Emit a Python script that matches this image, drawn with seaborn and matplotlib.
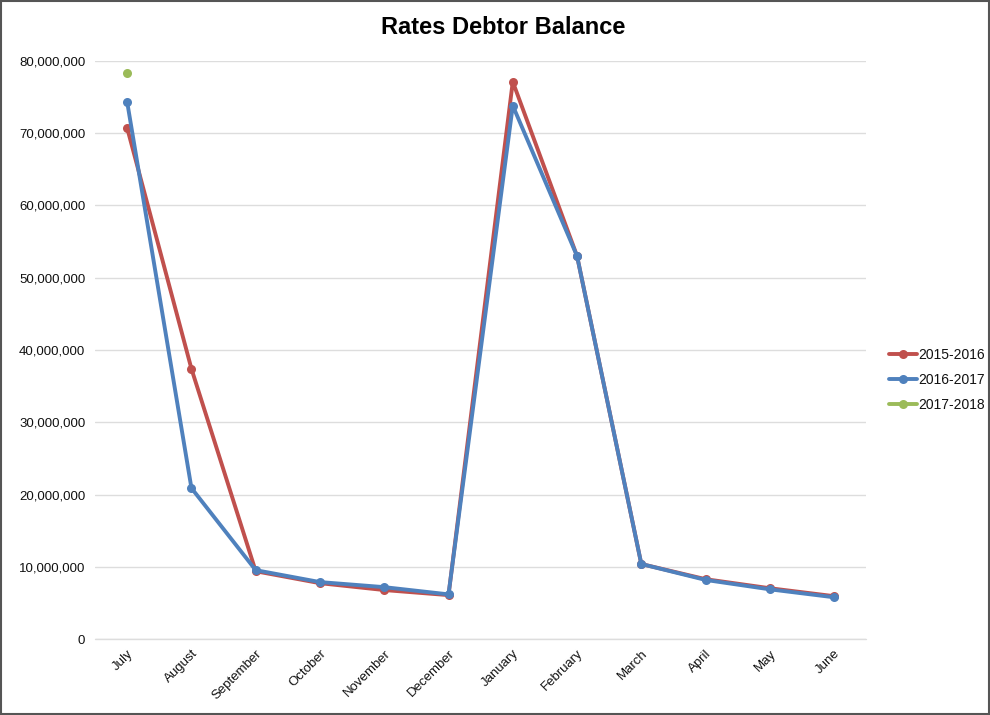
import matplotlib
matplotlib.use("Agg")
import matplotlib.pyplot as plt
import seaborn as sns
import pandas as pd
import numpy as np
from matplotlib.ticker import FuncFormatter

months = ["July", "August", "September", "October", "November", "December",
          "January", "February", "March", "April", "May", "June"]
series_names = ["2015-2016", "2016-2017", "2017-2018"]
vals_2015 = [70.7e6, 37.4e6, 9.4e6, 7.75e6, 6.8e6, 6.1e6, 77.1e6, 53.0e6, 10.4e6, 8.3e6, 7.05e6, 5.95e6]
vals_2016 = [74.3e6, 20.9e6, 9.55e6, 7.9e6, 7.2e6, 6.2e6, 73.8e6, 53.0e6, 10.4e6, 8.2e6, 6.9e6, 5.8e6]
vals_2017 = [78.3e6] + [np.nan] * 11
colors = ["#C0504D", "#4F81BD", "#9BBB59"]

rows = []
for name, vals in zip(series_names, [vals_2015, vals_2016, vals_2017]):
    for i, (m, v) in enumerate(zip(months, vals)):
        rows.append({"Month": m, "idx": i, "Series": name, "Value": v})
df = pd.DataFrame(rows)

sns.set_theme(style="white")
plt.rcParams['font.family'] = ['Liberation Sans', 'DejaVu Sans']
plt.rcParams['text.color'] = '#111111'

fig = plt.figure(figsize=(9.9, 7.15), dpi=100)
ax = fig.add_axes([0.096, 0.106, 0.779, 0.809])

sns.lineplot(data=df.dropna(), x="idx", y="Value", hue="Series", hue_order=series_names,
             palette=colors, marker="o", markersize=6.5, markeredgewidth=0,
             linewidth=2.8, ax=ax, legend=True, sort=False)

ax.set_xlim(-0.5, 11.5)
ax.set_ylim(0, 80e6)
ax.set_yticks(np.arange(0, 80e6 + 1, 10e6))
ax.yaxis.set_major_formatter(FuncFormatter(lambda v, p: f"{int(v):,}"))
ax.set_xticks(range(len(months)))
ax.set_xticklabels(months, rotation=45, ha="right", rotation_mode="anchor", fontsize=9.5)
ax.tick_params(axis="y", labelsize=9.5, length=0, pad=7, labelcolor="#111111")
ax.tick_params(axis="x", length=0, pad=6, labelcolor="#111111")
ax.grid(axis="y", color="#DDDDDD", linewidth=1)
ax.axhline(0, color="#DDDDDD", linewidth=1, zorder=0, clip_on=False)
ax.set_axisbelow(True)
for s in ax.spines.values():
    s.set_visible(False)
ax.set_xlabel("")
ax.set_ylabel("")

fig.suptitle("Rates Debtor Balance", fontsize=17, fontweight="bold", x=0.508, y=0.977, color="black")

handles, labels = ax.get_legend_handles_labels()
ax.legend(handles, labels, loc="center left", bbox_to_anchor=(1.019, 0.448), frameon=False,
          fontsize=10, handlelength=2.0, handletextpad=0.1, labelspacing=0.78, borderaxespad=0.2)

fig.patches.append(matplotlib.patches.Rectangle((0.001, 0.001), 0.998, 0.998, transform=fig.transFigure,
                                                fill=False, edgecolor="#555555", linewidth=1.5))

fig.savefig("out.png", dpi=100, facecolor="white")
